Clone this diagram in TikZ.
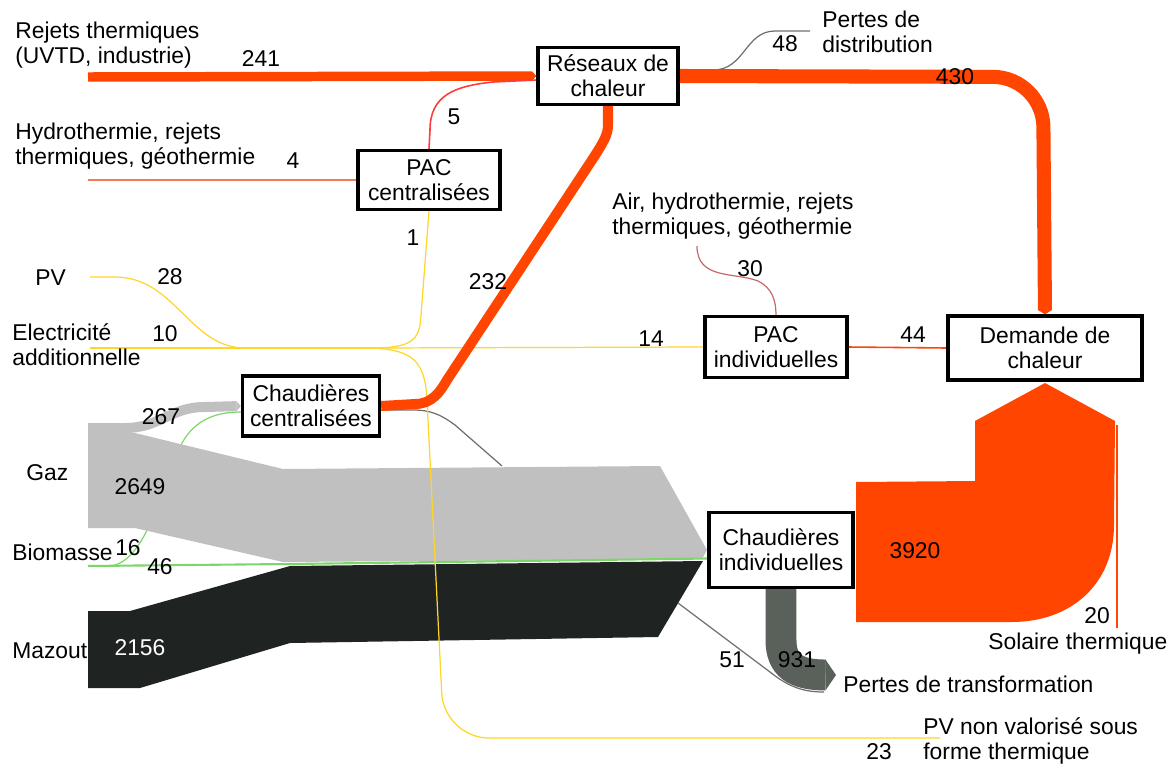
\documentclass[tikz,border=0pt]{standalone}
\usepackage{fontspec}
\setmainfont{Liberation Sans}
\usetikzlibrary{arrows.meta}

\definecolor{heat}{HTML}{FF4500}
\definecolor{gasgray}{HTML}{C0C0C0}
\definecolor{oildark}{HTML}{1F2321}
\definecolor{lossdark}{HTML}{5A615B}
\definecolor{elecyellow}{HTML}{FFD52A}
\definecolor{biogreen}{HTML}{7ED66B}
\definecolor{pacred}{HTML}{FF3B3B}
\definecolor{hydrored}{HTML}{F07A5A}
\definecolor{airred}{HTML}{C86A6A}
\definecolor{lossline}{HTML}{6E6E6E}

\pgfdeclarelayer{flows}
\pgfsetlayers{flows,main}

\tikzset{
  box/.style={draw, line width=1.9pt, fill=white, align=center, inner sep=2pt,
    font=\fontsize{13}{14.2}\selectfont},
  lbl/.style={inner sep=0pt, align=left, anchor=west, font=\fontsize{13}{14.2}\selectfont},
  num/.style={inner sep=0pt, font=\fontsize{13}{14.2}\selectfont},
  pointy/.style={-{Triangle[length=2.5pt, width=0pt 1, line width=0pt]}},
  thinflow/.style={line width=0.7pt},
}

\begin{document}
\begin{tikzpicture}[x=0.02cm, y=-0.02cm]
  \useasboundingbox (0,0) rectangle (1171,765);

  % Draw the conversion boxes
  \node[box, minimum width=2.8cm, minimum height=1.14cm] (rdc) at (608,76) {Réseaux de\\chaleur};
  \node[box, minimum width=2.84cm, minimum height=1.18cm] (pacc) at (429,180) {PAC\\centralisées};
  \node[box, minimum width=2.84cm, minimum height=1.22cm] (paci) at (776,347) {PAC\\individuelles};
  \node[box, minimum width=3.88cm, minimum height=1.28cm] (dem) at (1045,348) {Demande de\\chaleur};
  \node[box, minimum width=2.74cm, minimum height=1.2cm] (chc) at (311,406) {Chaudières\\centralisées};
  \node[box, minimum width=2.88cm, minimum height=1.5cm] (chi) at (781,550) {Chaudières\\individuelles};

  % Free ends of the flows
  \coordinate (rejets) at (88,77);
  \coordinate (hydro) at (88,180);
  \coordinate (pv) at (90,277);
  \coordinate (elec) at (90,348);
  \coordinate (split) at (372,348);
  \coordinate (bio) at (88,566);
  \coordinate (air) at (697,246);
  \coordinate (pdist) at (810,31);
  \coordinate (pvnv) at (940,738);
  \coordinate (sol) at (1117,628);

  \begin{pgfonlayer}{flows}
    % Draw the biomass going into the central boilers (behind the gas)
    \draw[biogreen, thinflow] (bio) -- (110,566) .. controls (150,562) and (165,470) .. (182,443)
      .. controls (195,420) and (215,412) .. ([yshift=-0.12cm]chc.west);
    % Draw the losses of the central boilers and of the oil
    \draw[lossline, thinflow] ([yshift=-0.08cm]chc.east) -- (413,410) .. controls (430,410) and (440,414) .. (455,425) -- (502,466);
    \draw[lossline, thinflow] (678,603) -- (770,672) .. controls (790,688) and (805,692) .. (824,692);

    % Draw the gas band and its branch
    \fill[gasgray] (88,433) -- (135,433) -- (283,469) -- (660,466) -- (707,550) -- (702,559)
      -- (283,562) -- (135,528) -- (88,528) -- cycle;
    \draw[gasgray, line width=5.7pt, pointy] (88,428) -- (125,428) .. controls (160,428) and (170,407) .. (205,407) -- (chc.west);

    % Draw the oil band
    \fill[oildark] (88,611) -- (130,611) -- (290,566) -- (703,561) -- (658,637) -- (290,643)
      -- (140,688) -- (88,688) -- cycle;
    \draw[biogreen, line width=1.2pt] (bio) -- (290,564) -- ([yshift=-0.17cm]chi.west);

    % Draw the electricity
    \draw[elecyellow, thinflow] (pv) -- (115,277) .. controls (175,277) and (190,348) .. (245,348) -- (split);
    \draw[elecyellow, thinflow] (elec) -- (split);
    \draw[elecyellow, thinflow] (split) -- (paci.west);
    \draw[elecyellow, thinflow] (split) .. controls (412,348) and (420,340) .. (421,315) -- (pacc.south);
    \draw[elecyellow, thinflow] (split) .. controls (412,350) and (425,360) .. (427,400)
      [rounded corners=0.9cm] -- (444,738) -- (pvnv);

    % Draw the heat going into the networks
    \draw[heat, line width=5.4pt, pointy] (rejets) -- (rdc.west);
    \draw[hydrored, thinflow] (hydro) -- (pacc.west);
    \draw[pacred, line width=0.9pt] (pacc.north) -- (430,130) .. controls (430,95) and (455,86) .. (493,82) -- ([yshift=-0.08cm]rdc.west);
    \draw[heat, line width=5.7pt] (chc.east) -- (415,404) .. controls (432,404) and (440,392) .. (447,380)
      -- (592,160) .. controls (603,143) and (608,135) .. (608,125) -- (rdc.south);

    % Draw the heat going to the demand
    \draw[lossline, thinflow] ([yshift=0.12cm]rdc.east) -- (713,70) .. controls (745,70) and (745,31) .. (775,31) -- (pdist);
    \draw[heat, line width=8pt, rounded corners=1cm, pointy] (rdc.east) -- (1043,77) -- (dem.north);
    \draw[airred, thinflow] (air) .. controls (697,280) and (735,272) .. (758,281)
      .. controls (772,288) and (776,300) .. (paci.north);
    \draw[heat, line width=0.9pt] (paci.east) -- (dem.west);
    \fill[heat] (856,482) -- (975,481) -- (975,421) -- (1045,383) -- (1115,421) -- (1114,525)
      .. controls (1114,585) and (1070,622) .. (1012,622) -- (856,622) -- cycle;
    \draw[heat, line width=0.9pt] (sol) -- (1117,425);

    % Draw the transformation losses
    \draw[lossdark, line width=17.6pt, -{Triangle[length=6pt, width=0pt 1, line width=0pt]}]
      (chi.south) -- (781,640) .. controls (781,665) and (795,675) .. (836,675);
  \end{pgfonlayer}

  % Draw the labels of the sources and sinks
  \node[lbl] (rejetsL) at (15,45) {Rejets thermiques\\(UVTD, industrie)};
  \node[lbl] (hydroL) at (15,146) {Hydrothermie, rejets\\thermiques, géothermie};
  \node[lbl] (pvL) at (35,278) {PV};
  \node[lbl] (elecL) at (12,345) {Electricité\\additionnelle};
  \node[lbl] (gazL) at (26,473) {Gaz};
  \node[lbl] (bioL) at (12,552) {Biomasse};
  \node[lbl] (mazL) at (12,651) {Mazout};
  \node[lbl] (airL) at (612,216) {Air, hydrothermie, rejets\\thermiques, géothermie};
  \node[lbl] (pdistL) at (822,32) {Pertes de\\distribution};
  \node[lbl] (ptransL) at (843,684) {Pertes de transformation};
  \node[lbl] (solL) at (988,644) {Solaire thermique};
  \node[lbl] (pvnvL) at (923,741) {PV non valorisé sous\\forme thermique};

  % Draw the values of the flows
  \node[num] (v241) at (261,59) {241};
  \node[num] (v4) at (293,161) {4};
  \node[num] (v5) at (454,117) {5};
  \node[num] (v1) at (413,238) {1};
  \node[num] (v28) at (170,277) {28};
  \node[num] (v10) at (165,334) {10};
  \node[num] (v232) at (488,282) {232};
  \node[num] (v14) at (651,339) {14};
  \node[num] (v30) at (750,269) {30};
  \node[num] (v44) at (913,335) {44};
  \node[num] (v48) at (785,44) {48};
  \node[num] (v430) at (955,77) {430};
  \node[num] (v267) at (161,417) {267};
  \node[num] (v2649) at (140,487) {2649};
  \node[num] (v16) at (128,548) {16};
  \node[num] (v46) at (160,567) {46};
  \node[num, text=white] (v2156) at (140,648) {2156};
  \node[num] (v3920) at (915,551) {3920};
  \node[num] (v51) at (732,660) {51};
  \node[num] (v931) at (797,660) {931};
  \node[num] (v20) at (1097,616) {20};
  \node[num] (v23) at (879,752) {23};
\end{tikzpicture}
\end{document}
